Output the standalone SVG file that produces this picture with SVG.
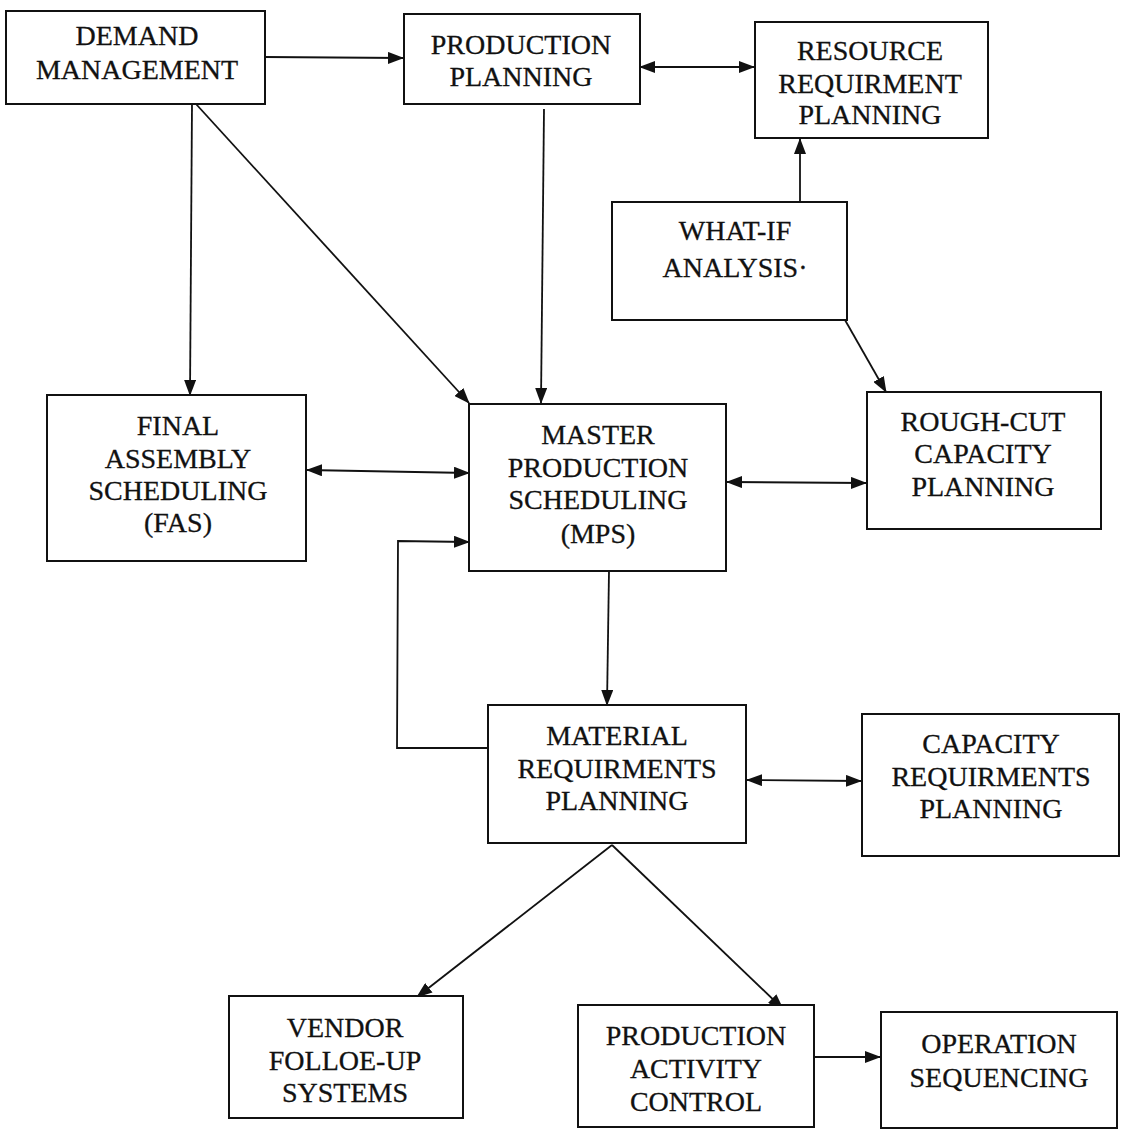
<svg xmlns="http://www.w3.org/2000/svg" width="1124" height="1132" viewBox="0 0 1124 1132">
<style>
.box{fill:#fff;stroke:#111;stroke-width:2}
.t{font-family:"Liberation Serif","Times New Roman",serif;font-size:28px;fill:#111;stroke:#111;stroke-width:0.3;text-anchor:middle}
.c{fill:none;stroke:#111;stroke-width:1.8}
</style>
<defs>
<marker id="ah" viewBox="0 0 16 12" refX="15" refY="6" markerWidth="16" markerHeight="12" markerUnits="userSpaceOnUse" orient="auto-start-reverse">
<path d="M0,0 L16,6 L0,12 z" fill="#111"/>
</marker>
</defs>
<rect width="1124" height="1132" fill="#fff"/>
<g id="connectors">
<line class="c" x1="265" y1="57" x2="403" y2="58" marker-end="url(#ah)"/>
<line class="c" x1="640" y1="67" x2="754" y2="67" marker-start="url(#ah)" marker-end="url(#ah)"/>
<line class="c" x1="800" y1="202" x2="800" y2="139" marker-end="url(#ah)"/>
<line class="c" x1="845" y1="320" x2="886" y2="392" marker-end="url(#ah)"/>
<line class="c" x1="192" y1="104" x2="190" y2="395" marker-end="url(#ah)"/>
<line class="c" x1="196" y1="104" x2="469" y2="403" marker-end="url(#ah)"/>
<line class="c" x1="544" y1="109" x2="541" y2="403" marker-end="url(#ah)"/>
<line class="c" x1="307" y1="470" x2="469" y2="473" marker-start="url(#ah)" marker-end="url(#ah)"/>
<line class="c" x1="727" y1="482" x2="866" y2="483" marker-start="url(#ah)" marker-end="url(#ah)"/>
<polyline class="c" points="488,748 397,748 398,541 469,542" marker-end="url(#ah)"/>
<line class="c" x1="609" y1="571" x2="607" y2="705" marker-end="url(#ah)"/>
<line class="c" x1="747" y1="780" x2="861" y2="781" marker-start="url(#ah)" marker-end="url(#ah)"/>
<line class="c" x1="612" y1="845" x2="417" y2="997" marker-end="url(#ah)"/>
<line class="c" x1="612" y1="845" x2="783" y2="1009" marker-end="url(#ah)"/>
<line class="c" x1="815" y1="1057" x2="880" y2="1057" marker-end="url(#ah)"/>
</g>
<g id="demand-management">
<rect class="box" x="6" y="11" width="259" height="93"/>
<text class="t" x="137" y="45">DEMAND</text>
<text class="t" x="137" y="79">MANAGEMENT</text>
</g>
<g id="production-planning">
<rect class="box" x="404" y="14" width="236" height="90"/>
<text class="t" x="521" y="54">PRODUCTION</text>
<text class="t" x="521" y="86">PLANNING</text>
</g>
<g id="resource-requirment-planning">
<rect class="box" x="755" y="22" width="233" height="116"/>
<text class="t" x="870" y="60">RESOURCE</text>
<text class="t" x="870" y="93">REQUIRMENT</text>
<text class="t" x="870" y="124">PLANNING</text>
</g>
<g id="what-if-analysis">
<rect class="box" x="612" y="202" width="235" height="118"/>
<text class="t" x="735" y="240">WHAT-IF</text>
<text class="t" x="735" y="277">ANALYSIS·</text>
</g>
<g id="rough-cut-capacity-planning">
<rect class="box" x="867" y="392" width="234" height="137"/>
<text class="t" x="983" y="431">ROUGH-CUT</text>
<text class="t" x="983" y="463">CAPACITY</text>
<text class="t" x="983" y="496">PLANNING</text>
</g>
<g id="final-assembly-scheduling">
<rect class="box" x="47" y="395" width="259" height="166"/>
<text class="t" x="178" y="435">FINAL</text>
<text class="t" x="178" y="468">ASSEMBLY</text>
<text class="t" x="178" y="500">SCHEDULING</text>
<text class="t" x="178" y="532">(FAS)</text>
</g>
<g id="master-production-scheduling">
<rect class="box" x="469" y="404" width="257" height="167"/>
<text class="t" x="598" y="444">MASTER</text>
<text class="t" x="598" y="477">PRODUCTION</text>
<text class="t" x="598" y="509">SCHEDULING</text>
<text class="t" x="598" y="543">(MPS)</text>
</g>
<g id="material-requirments-planning">
<rect class="box" x="488" y="705" width="258" height="138"/>
<text class="t" x="617" y="745">MATERIAL</text>
<text class="t" x="617" y="778">REQUIRMENTS</text>
<text class="t" x="617" y="810">PLANNING</text>
</g>
<g id="capacity-requirments-planning">
<rect class="box" x="862" y="714" width="257" height="142"/>
<text class="t" x="991" y="753">CAPACITY</text>
<text class="t" x="991" y="786">REQUIRMENTS</text>
<text class="t" x="991" y="818">PLANNING</text>
</g>
<g id="vendor-folloe-up-systems">
<rect class="box" x="229" y="996" width="234" height="122"/>
<text class="t" x="345" y="1037">VENDOR</text>
<text class="t" x="345" y="1070">FOLLOE-UP</text>
<text class="t" x="345" y="1102">SYSTEMS</text>
</g>
<g id="production-activity-control">
<rect class="box" x="578" y="1005" width="236" height="122"/>
<text class="t" x="696" y="1045">PRODUCTION</text>
<text class="t" x="696" y="1078">ACTIVITY</text>
<text class="t" x="696" y="1111">CONTROL</text>
</g>
<g id="operation-sequencing">
<rect class="box" x="881" y="1012" width="236" height="116"/>
<text class="t" x="999" y="1053">OPERATION</text>
<text class="t" x="999" y="1087">SEQUENCING</text>
</g>
</svg>
